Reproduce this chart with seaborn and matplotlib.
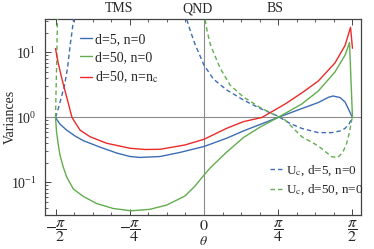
import numpy as np
import pandas as pd
import matplotlib
matplotlib.use("Agg")
import matplotlib.pyplot as plt
from matplotlib.lines import Line2D
from matplotlib.ticker import FixedLocator, LogLocator, NullFormatter, FixedFormatter
import seaborn as sns

# theta values are given in units of pi/2
blue_t = [-1.0, -0.970, -0.925, -0.869, -0.813, -0.700, -0.588, -0.498, -0.431, -0.296, -0.162, 0.0,
          0.153, 0.265, 0.377, 0.498, 0.647, 0.770, 0.837, 0.869, 0.916, 0.950, 0.976, 1.0]
blue_v = [1.0, 0.79, 0.64, 0.52, 0.44, 0.35, 0.284, 0.251, 0.243, 0.251, 0.29, 0.358,
          0.48, 0.62, 0.78, 1.0, 1.34, 1.70, 2.04, 2.14, 2.03, 1.73, 1.30, 1.0]

green_t = [-1.0, -0.993, -0.981, -0.970, -0.948, -0.925, -0.880, -0.813, -0.723, -0.611, -0.492, -0.364,
           -0.251, -0.128, -0.061, 0.0, 0.040, 0.153, 0.265, 0.377, 0.498, 0.658, 0.770, 0.882, 0.950,
           0.980, 1.0]
green_v = [1.0, 0.60, 0.378, 0.265, 0.173, 0.122, 0.0794, 0.061, 0.0475, 0.0398, 0.0367, 0.0387,
           0.045, 0.062, 0.088, 0.130, 0.166, 0.294, 0.49, 0.71, 1.0, 1.61, 2.56, 5.0, 9.1,
           14.2, 1.0]

red_t = [-1.0, -0.983, -0.963, -0.943, -0.916, -0.889, -0.835, -0.768, -0.655, -0.498, -0.397, -0.296,
         -0.128, 0.0, 0.153, 0.265, 0.389, 0.546, 0.658, 0.770, 0.882, 0.950, 0.987, 1.0]
red_v = [11.5, 7.1, 4.5, 2.95, 1.73, 1.0, 0.64, 0.507, 0.401, 0.336, 0.322, 0.324,
         0.378, 0.462, 0.682, 0.862, 1.0, 1.61, 2.38, 3.64, 6.9, 12.8, 24.4, 11.6]

uc_blue_left_t = [-1.0, -0.980, -0.960, -0.939, -0.919, -0.902, -0.889, -0.879, -0.869]
uc_blue_left_v = [1.0, 1.40, 2.07, 3.16, 5.77, 12.6, 20.7, 31.6, 50.0]
uc_blue_right_t = [-0.135, -0.117, -0.094, -0.061, 0.0, 0.063, 0.153, 0.265, 0.377, 0.490, 0.579,
                   0.658, 0.770, 0.860, 0.916, 0.950, 0.976, 1.0]
uc_blue_right_v = [54.0, 32.7, 22.2, 13.5, 6.4, 3.91, 2.65, 1.86, 1.38, 1.07, 0.81,
                   0.68, 0.585, 0.585, 0.62, 0.68, 0.79, 1.0]

uc_green_left_t = [-1.0, -0.997, -0.993, -0.990, -0.987, -0.984]
uc_green_left_v = [1.0, 2.2, 5.4, 13.0, 31.6, 50.0]
uc_green_right_t = [-0.003, 0.007, 0.020, 0.040, 0.063, 0.108, 0.175, 0.265, 0.377, 0.490, 0.546,
                    0.658, 0.770, 0.860, 0.902, 0.936, 0.961, 0.980, 0.995, 1.0]
uc_green_right_v = [54.0, 32.7, 22.0, 14.0, 10.2, 5.8, 3.16, 2.07, 1.43, 1.05, 0.915,
                    0.507, 0.365, 0.249, 0.243, 0.295, 0.40, 0.60, 0.915, 1.0]

labels_solid = ["d=5, n=0", "d=50, n=0", r"d=50, n=n$_\mathrm{c}$"]
labels_dashed = [r"U$_\mathrm{c}$, d=5, n=0", r"U$_\mathrm{c}$, d=50, n=0"]
top_labels = ["TMS", "QND", "BS"]
xtick_labels = [r"$-\dfrac{\pi}{2}$", r"$-\dfrac{\pi}{4}$", r"$0$", r"$\dfrac{\pi}{4}$", r"$\dfrac{\pi}{2}$"]

BLUE = "#3d6db5"
GREEN = "#62ad4f"
RED = "#eb2a2a"

sns.set_style("ticks")
plt.rcParams["font.family"] = ["Liberation Serif", "DejaVu Serif"]
plt.rcParams["mathtext.fontset"] = "stix"
plt.rcParams["font.size"] = 10

def frame(t, v, name, branch):
    return pd.DataFrame({"theta": np.array(t) * np.pi / 2, "value": v, "series": name, "branch": branch})

solid = pd.concat([frame(blue_t, blue_v, "b", "b"), frame(green_t, green_v, "g", "g"),
                   frame(red_t, red_v, "r", "r")])
dashed_blue = pd.concat([frame(uc_blue_left_t, uc_blue_left_v, "ub", "l"),
                         frame(uc_blue_right_t, uc_blue_right_v, "ub", "r")])
dashed_green = pd.concat([frame(uc_green_left_t, uc_green_left_v, "ug", "l"),
                          frame(uc_green_right_t, uc_green_right_v, "ug", "r")])

fig = plt.figure(figsize=(3.74, 2.49), dpi=100)
ax = fig.add_axes([45 / 374, 1 - 215 / 249, 316 / 374, 196 / 249])

ax.axhline(1.0, color="#8c8c8c", lw=0.8, zorder=1)
ax.axvline(0.0, color="#8c8c8c", lw=0.8, zorder=1)

dash = (0, (3.2, 2.2))
sns.lineplot(data=dashed_blue, x="theta", y="value", units="branch", estimator=None,
             color=BLUE, lw=1.0, linestyle=dash, ax=ax, legend=False, zorder=3)
sns.lineplot(data=dashed_green, x="theta", y="value", units="branch", estimator=None,
             color=GREEN, lw=1.0, linestyle=dash, ax=ax, legend=False, zorder=3)
sns.lineplot(data=solid, x="theta", y="value", hue="series", units="branch", estimator=None,
             palette={"b": BLUE, "g": GREEN, "r": RED}, lw=1.0, ax=ax, legend=False, zorder=4)

ax.set_yscale("log")
ax.set_xlim(-1.682, 1.661)
ax.set_ylim(10 ** -1.5, 10 ** 1.515)

major = [-np.pi / 2, -np.pi / 4, 0, np.pi / 4, np.pi / 2]
minor = [k * np.pi / 16 for k in range(-8, 9) if k % 4 != 0]
ax.xaxis.set_major_locator(FixedLocator(major))
ax.xaxis.set_major_formatter(FixedFormatter(xtick_labels))
ax.xaxis.set_minor_locator(FixedLocator(minor))
ax.yaxis.set_major_locator(LogLocator(base=10, numticks=10))
ax.yaxis.set_minor_locator(LogLocator(base=10, subs=np.arange(2, 10), numticks=10))
ax.yaxis.set_minor_formatter(NullFormatter())

ax.tick_params(axis="both", which="both", direction="in", color="#444444", top=True, right=False)
ax.tick_params(axis="both", which="major", length=4, width=0.7, labelsize=10)
ax.tick_params(axis="x", which="major", labelsize=11.5, pad=2)
ax.tick_params(axis="both", which="minor", length=2, width=0.6)
ax.tick_params(axis="y", which="major", pad=6)
for s in ax.spines.values():
    s.set_color("#444444")
    s.set_linewidth(0.9)

for lab, x in zip(top_labels, [-0.569, -0.047, 0.478]):
    ax.text(x * np.pi / 2, 1.018, lab, transform=ax.get_xaxis_transform(), ha="center", va="bottom",
            fontsize=10)

ax.set_xlabel(r"$\theta$", fontsize=10)
ax.xaxis.set_label_coords(0.5, -0.1)
ax.set_ylabel("Variances", fontsize=10)
ax.yaxis.set_label_coords(-0.09, 0.5)

h1 = [Line2D([], [], color=c, lw=1.0) for c in (BLUE, GREEN, RED)]
leg1 = ax.legend(h1, labels_solid, loc="upper left", bbox_to_anchor=(0.111, 0.93), frameon=False,
                 borderpad=0, borderaxespad=0, handlelength=0.85, handletextpad=0.25,
                 labelspacing=0.4, fontsize=10)
ax.add_artist(leg1)
h2 = [Line2D([], [], color=c, lw=1.0, linestyle=dash) for c in (BLUE, GREEN)]
ax.legend(h2, labels_dashed, loc="upper left", bbox_to_anchor=(0.712, 0.265), frameon=False,
          borderpad=0, borderaxespad=0, handlelength=1.1, handletextpad=0.15,
          labelspacing=0.4, fontsize=9.5)

fig.savefig("out.png", dpi=100)
